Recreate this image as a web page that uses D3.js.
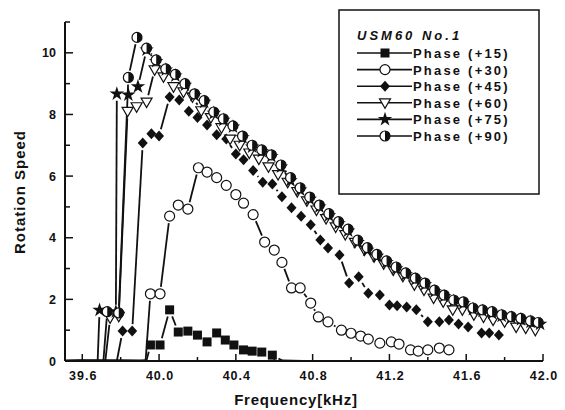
<!DOCTYPE html>
<html>
<head>
<meta charset="utf-8">
<script src="https://cdn.jsdelivr.net/npm/d3@7"></script>
<style>
  body { margin: 0; background: #fff; }
  text { font-family: "Liberation Sans", Arial, sans-serif; fill: #111; }
</style>
</head>
<body>
<svg id="chart" width="565" height="410"></svg>
<script>
// data: [frequency kHz, rotation speed]
const phase15 = [
  [39.51, 0.02], [39.6, 0.03], [39.7, 0.01], [39.8, 0.02], [39.9, 0.0], [39.935, 0.02],
  [39.955, 0.52], [40.005, 0.52], [40.055, 1.66], [40.10, 0.94], [40.15, 0.97],
  [40.20, 0.84], [40.25, 0.62], [40.30, 0.91], [40.345, 0.68], [40.39, 0.52],
  [40.44, 0.36], [40.485, 0.32], [40.535, 0.29], [40.59, 0.19], [40.64, 0.02], [40.75, 0.0]
];
const phase30 = [
  [39.51, 0.0], [39.7, 0.02], [39.93, 0.02],
  [39.955, 2.18], [40.005, 2.18], [40.055, 4.7], [40.10, 5.06], [40.15, 4.93],
  [40.205, 6.27], [40.25, 6.13], [40.30, 5.95], [40.35, 5.7], [40.40, 5.4],
  [40.44, 5.12], [40.49, 4.75], [40.55, 3.86], [40.60, 3.6], [40.64, 3.2],
  [40.69, 2.37], [40.735, 2.37], [40.79, 1.88], [40.83, 1.43], [40.88, 1.27],
  [40.95, 1.0], [41.0, 0.9], [41.05, 0.81], [41.09, 0.71], [41.15, 0.58],
  [41.21, 0.62], [41.25, 0.55], [41.31, 0.36], [41.35, 0.32], [41.40, 0.36],
  [41.46, 0.42], [41.51, 0.36]
];
const phase45 = [
  [39.51, 0.0], [39.7, 0.02], [39.78, 0.0],
  [39.81, 0.97], [39.86, 0.97], [39.915, 7.07], [39.96, 7.37], [40.0, 7.3],
  [40.055, 8.57], [40.105, 8.47], [40.155, 8.1], [40.20, 7.9], [40.25, 7.66],
  [40.30, 7.34], [40.35, 7.2], [40.40, 6.72], [40.44, 6.53], [40.49, 6.18],
  [40.54, 5.8], [40.59, 5.74], [40.64, 5.33], [40.69, 4.97], [40.74, 4.7],
  [40.79, 4.42], [40.84, 3.93], [40.88, 3.67], [40.94, 3.44], [40.99, 2.53],
  [41.04, 2.73], [41.09, 2.2], [41.15, 2.14], [41.20, 1.82], [41.24, 1.79],
  [41.29, 1.75], [41.34, 1.66], [41.40, 1.27], [41.46, 1.27], [41.51, 1.33],
  [41.56, 1.2], [41.61, 1.1], [41.68, 0.91], [41.72, 0.91], [41.77, 0.84]
];
const phase60 = [
  [39.51, 0.0], [39.72, 0.0],
  [39.745, 1.4], [39.79, 1.45], [39.836, 8.1], [39.883, 8.25], [39.935, 8.4],
  [39.977, 9.45], [40.023, 9.22], [40.075, 8.9], [40.127, 8.73], [40.174, 8.57],
  [40.22, 8.12], [40.27, 7.9], [40.325, 7.57], [40.37, 7.2], [40.42, 7.0],
  [40.47, 6.75], [40.52, 6.55], [40.57, 6.3], [40.62, 6.05], [40.67, 5.8],
  [40.72, 5.5], [40.77, 5.2], [40.82, 4.9], [40.87, 4.62], [40.92, 4.35],
  [40.97, 4.1], [41.02, 3.85], [41.07, 3.6], [41.12, 3.38], [41.17, 3.15],
  [41.22, 2.95], [41.27, 2.75], [41.33, 2.47], [41.38, 2.3], [41.43, 2.04],
  [41.48, 1.92], [41.53, 1.66], [41.58, 1.66], [41.64, 1.5], [41.69, 1.43],
  [41.74, 1.33], [41.80, 1.27], [41.86, 1.1], [41.91, 1.07], [41.96, 1.0]
];
const phase75 = [
  [39.51, 0.0], [39.68, 0.0],
  [39.69, 1.65], [39.775, 1.6], [39.78, 8.67], [39.84, 8.64], [39.89, 8.9],
  [39.935, 10.1], [39.985, 9.72], [40.035, 9.45], [40.085, 9.25], [40.135, 8.95],
  [40.185, 8.62], [40.235, 8.4], [40.285, 8.04], [40.335, 7.82], [40.385, 7.6],
  [40.435, 7.25], [40.485, 6.95], [40.535, 6.8], [40.585, 6.64], [40.635, 6.3],
  [40.685, 5.85], [40.735, 5.55], [40.785, 5.25], [40.835, 5.0], [40.885, 4.72],
  [40.935, 4.46], [40.985, 4.22], [41.035, 3.85], [41.085, 3.6], [41.135, 3.4],
  [41.185, 3.2], [41.235, 3.0], [41.285, 2.8], [41.335, 2.64], [41.385, 2.48],
  [41.435, 2.25], [41.485, 2.1], [41.535, 1.94], [41.585, 1.86], [41.635, 1.68],
  [41.685, 1.62], [41.735, 1.55], [41.785, 1.46], [41.835, 1.4], [41.885, 1.34],
  [41.935, 1.26], [41.985, 1.2]
];
const phase90 = [
  [39.51, 0.0], [39.71, 0.0],
  [39.73, 1.6], [39.79, 1.56], [39.84, 9.2], [39.885, 10.5], [39.935, 10.15],
  [39.985, 9.77], [40.035, 9.48], [40.085, 9.3], [40.135, 9.0], [40.185, 8.67],
  [40.235, 8.45], [40.285, 8.08], [40.335, 7.86], [40.385, 7.63], [40.435, 7.3],
  [40.485, 7.0], [40.535, 6.85], [40.585, 6.69], [40.635, 6.36], [40.685, 5.95],
  [40.735, 5.62], [40.785, 5.32], [40.835, 5.06], [40.885, 4.78], [40.935, 4.52],
  [40.985, 4.28], [41.035, 3.92], [41.085, 3.68], [41.135, 3.46], [41.185, 3.25],
  [41.235, 3.05], [41.285, 2.86], [41.335, 2.69], [41.385, 2.53], [41.435, 2.3],
  [41.485, 2.14], [41.535, 1.98], [41.585, 1.92], [41.635, 1.72], [41.685, 1.66],
  [41.735, 1.6], [41.785, 1.5], [41.835, 1.44], [41.885, 1.38], [41.935, 1.3],
  [41.975, 1.25]
];

const seriesNames = ['Phase (+15)', 'Phase (+30)', 'Phase (+45)', 'Phase (+60)', 'Phase (+75)', 'Phase (+90)'];
const seriesData = [phase15, phase30, phase45, phase60, phase75, phase90];
const seriesMarks = ['square', 'circle', 'diamond', 'triangle', 'star', 'half'];
const xTicks = [39.6, 40.0, 40.4, 40.8, 41.2, 41.6, 42.0];
const xMinorTicks = [39.8, 40.2, 40.6, 41.0, 41.4, 41.8];
const yTicks = [0, 2, 4, 6, 8, 10];
const yMinorTicks = [1, 3, 5, 7, 9, 11];

const svg = d3.select('#chart');
const x = d3.scaleLinear().domain([39.51, 42.0]).range([65, 543]);
const y = d3.scaleLinear().domain([0, 11]).range([361, 22]);
const markerGap = 7; // lines stop short of each marker

// markers
function drawMark(g, kind) {
  if (kind === 'square') {
    g.append('rect').attr('x', -4.5).attr('y', -4.5).attr('width', 9).attr('height', 9).attr('fill', '#111');
  } else if (kind === 'circle') {
    g.append('circle').attr('r', 5).attr('fill', '#fff').attr('stroke', '#111').attr('stroke-width', 1.2);
  } else if (kind === 'diamond') {
    g.append('path').attr('d', 'M0,-5.5L5,0L0,5.5L-5,0Z').attr('fill', '#111');
  } else if (kind === 'triangle') {
    g.append('path').attr('d', 'M-5.5,-4L5.5,-4L0,5.5Z').attr('fill', '#fff').attr('stroke', '#111').attr('stroke-width', 1.2);
  } else if (kind === 'star') {
    g.append('path').attr('d', d3.symbol(d3.symbolStar, 65)()).attr('fill', '#111');
  } else if (kind === 'half') {
    g.append('circle').attr('r', 5).attr('fill', '#fff').attr('stroke', '#111').attr('stroke-width', 1.2);
    g.append('path').attr('d', 'M0,-5A5,5 0 0 1 0,5Z').attr('fill', '#111');
  }
}

// axes
const axisG = svg.append('g');
axisG.append('line').attr('x1', 65).attr('x2', 65).attr('y1', y(11)).attr('y2', y(0))
  .attr('stroke', '#111').attr('stroke-width', 2);
axisG.append('line').attr('x1', 65).attr('x2', x(42.0)).attr('y1', y(0)).attr('y2', y(0))
  .attr('stroke', '#111').attr('stroke-width', 2);

yTicks.forEach(v => {
  axisG.append('line').attr('x1', 65).attr('x2', 73).attr('y1', y(v)).attr('y2', y(v))
    .attr('stroke', '#111').attr('stroke-width', 1.5);
  axisG.append('text').attr('x', 56).attr('y', y(v) + 4.5).attr('text-anchor', 'end')
    .style('font-size', '12.5px').style('font-weight', 'bold').text(v);
});
yMinorTicks.forEach(v => {
  axisG.append('line').attr('x1', 65).attr('x2', 70).attr('y1', y(v)).attr('y2', y(v))
    .attr('stroke', '#111').attr('stroke-width', 1.5);
});
xTicks.forEach(v => {
  axisG.append('line').attr('x1', x(v)).attr('x2', x(v)).attr('y1', y(0)).attr('y2', y(0) - 7)
    .attr('stroke', '#111').attr('stroke-width', 1.5);
  axisG.append('text').attr('x', x(v) + 1).attr('y', 380).attr('text-anchor', 'middle')
    .style('font-size', '12.5px').style('font-weight', 'bold').style('letter-spacing', '1px')
    .text(v.toFixed(1));
});
xMinorTicks.forEach(v => {
  axisG.append('line').attr('x1', x(v)).attr('x2', x(v)).attr('y1', y(0)).attr('y2', y(0) - 4)
    .attr('stroke', '#111').attr('stroke-width', 1.5);
});

svg.append('text').attr('x', 296).attr('y', 405).attr('text-anchor', 'middle')
  .style('font-size', '15px').style('font-weight', 'bold').style('letter-spacing', '0.8px')
  .text('Frequency[kHz]');
svg.append('text').attr('transform', 'translate(25,192) rotate(-90)').attr('text-anchor', 'middle')
  .style('font-size', '15px').style('font-weight', 'bold').style('letter-spacing', '1px')
  .text('Rotation Speed');

// lines (broken around markers) and markers
const plot = svg.append('g');
seriesData.forEach((data, i) => {
  const pts = data.map(d => ({ px: x(d[0]), py: y(d[1]), mark: d[1] > 0.1 }));
  for (let k = 1; k < pts.length; k++) {
    const a = pts[k - 1], b = pts[k];
    const dx = b.px - a.px, dy = b.py - a.py;
    const len = Math.hypot(dx, dy);
    const ga = a.mark ? markerGap : 0, gb = b.mark ? markerGap : 0;
    if (len <= ga + gb + 1) continue;
    const ux = dx / len, uy = dy / len;
    plot.append('line')
      .attr('x1', a.px + ux * ga).attr('y1', a.py + uy * ga)
      .attr('x2', b.px - ux * gb).attr('y2', b.py - uy * gb)
      .attr('stroke', '#111').attr('stroke-width', 1.8);
  }
});
seriesData.forEach((data, i) => {
  data.filter(d => d[1] > 0.1).forEach(d => {
    const g = plot.append('g').attr('transform', `translate(${x(d[0])},${y(d[1])})`);
    drawMark(g, seriesMarks[i]);
  });
});

// legend
const legend = svg.append('g');
legend.append('rect').attr('x', 339).attr('y', 10).attr('width', 200).attr('height', 184)
  .attr('fill', '#fff').attr('stroke', '#111').attr('stroke-width', 1.5);
legend.append('text').attr('x', 357).attr('y', 40)
  .style('font-size', '13px').style('font-weight', 'bold').style('font-style', 'italic')
  .style('letter-spacing', '3px').text('USM60 No.1');
seriesNames.forEach((name, i) => {
  const cy = 53 + i * 16.6;
  legend.append('line').attr('x1', 357).attr('x2', 412).attr('y1', cy).attr('y2', cy)
    .attr('stroke', '#111').attr('stroke-width', 1.6);
  const g = legend.append('g').attr('transform', `translate(385,${cy})`);
  drawMark(g, seriesMarks[i]);
  legend.append('text').attr('x', 413).attr('y', cy + 5)
    .style('font-size', '13px').style('font-weight', 'bold').style('letter-spacing', '2.2px')
    .text(name);
});
</script>
</body>
</html>
